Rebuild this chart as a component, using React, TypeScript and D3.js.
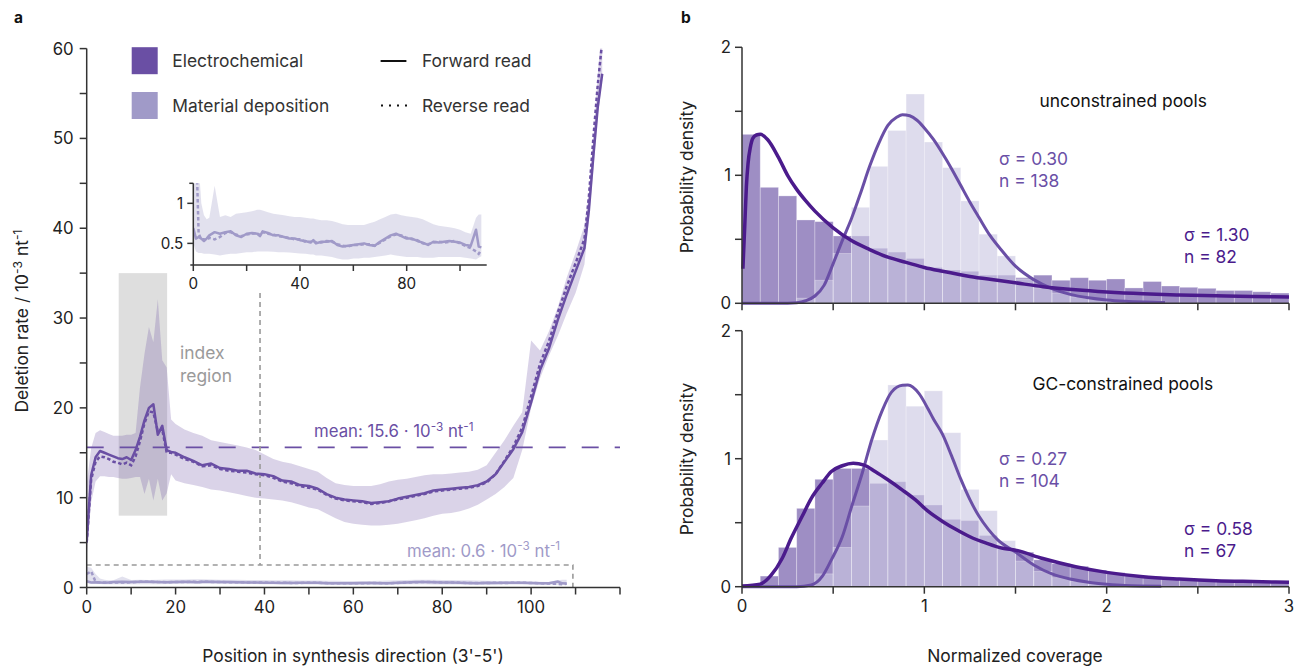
import React from 'react';
import * as d3 from 'd3';

// ---------- Panel a: electrochemical synthesis ----------
const ecPos = [0,1,2,3,4,5,6,7,8,9,10,11,12,13,14,15,16,17,18,19,20,
  22,24,26,28,30,32,34,36,38,40,42,44,46,48,50,52,54,56,58,60,62,64,66,68,70,72,74,76,78,80,
  82,84,86,88,90,92,94,96,98,100,102,104,106,108,110,112,113,114,115,116];
const ecForward = [5.2,12.5,14.5,15.2,15.0,14.8,14.6,14.4,14.3,14.5,14.2,15.3,16.8,18.6,20.0,20.4,17.0,18.0,15.3,15.1,15.0,
  14.5,14.1,13.6,13.8,13.3,13.2,13.0,13.0,12.7,12.6,12.4,11.9,11.8,11.4,11.3,11.0,10.4,10.0,9.8,9.7,9.6,9.4,9.5,9.6,9.9,10.1,10.3,10.5,10.8,10.9,
  11.0,11.1,11.2,11.4,11.8,12.6,14.0,15.4,17.3,20.6,24.2,26.6,29.8,32.6,35.2,37.8,42.0,48.0,53.5,57.2];
const ecReverse = [5.0,12.0,14.0,14.6,14.5,14.3,14.0,13.9,13.7,13.9,13.6,14.6,16.3,18.3,19.6,19.5,17.4,17.6,15.0,15.0,14.8,
  14.3,14.0,13.5,13.6,13.2,13.0,12.9,12.8,12.6,12.5,12.2,11.8,11.6,11.3,11.1,10.9,10.3,9.9,9.7,9.6,9.5,9.3,9.4,9.6,9.8,10.0,10.2,10.4,10.7,10.8,
  10.9,11.0,11.1,11.3,11.7,12.6,14.1,15.7,17.8,21.3,24.9,27.4,30.6,33.5,36.1,38.8,43.5,50.0,56.0,60.8];
const ecUpper = [11.5,15.5,17.2,17.5,17.3,17.1,16.9,16.9,16.9,17.0,17.0,17.2,22.3,26.0,29.0,27.3,32.1,25.3,24.5,18.7,18.2,
  17.6,17.2,16.9,16.4,16.2,16.0,15.8,15.6,15.3,14.8,14.3,14.0,13.8,13.5,13.2,12.9,12.2,11.6,11.4,11.3,11.3,11.3,11.5,11.8,12.0,12.1,12.3,12.5,12.6,12.6,
  12.7,12.8,12.9,13.1,13.6,15.0,16.4,18.0,19.5,27.5,26.4,28.5,31.2,34.5,37.3,40.3,44.0,50.0,57.0,63.0];
const ecLower = [3.5,9.5,11.8,12.4,12.4,12.3,12.3,12.2,12.1,12.1,12.2,12.3,12.3,10.4,12.1,9.7,12.1,9.7,10.5,12.6,11.9,
  11.6,11.4,11.2,10.9,10.8,10.6,10.4,10.2,10.0,9.9,9.8,9.7,9.5,9.2,8.9,8.7,8.2,7.7,7.3,7.1,7.0,6.9,6.9,7.0,7.1,7.3,7.5,7.7,8.0,8.2,
  8.3,8.5,8.8,9.2,9.8,10.4,11.2,12.2,15.3,20.0,23.3,25.8,28.0,30.5,32.8,36.0,41.0,46.5,52.5,56.5];

// ---------- Panel a: material deposition synthesis ----------
const mdPos = [0,1,2,3,4,5,6,8,10,12,14,16,18,20,22,24,25,26,28,30,32,34,36,38,40,42,44,45,
  46,48,50,52,54,56,58,60,62,64,66,68,70,72,74,76,78,80,82,84,86,88,90,92,94,96,98,100,102,104,106,107,108];
const mdForward = [0.69,0.56,0.58,0.56,0.53,0.56,0.60,0.64,0.62,0.64,0.65,0.60,0.58,0.62,0.63,0.62,0.59,0.65,
  0.63,0.60,0.60,0.58,0.56,0.56,0.54,0.53,0.51,0.54,
  0.50,0.52,0.52,0.53,0.48,0.46,0.47,0.48,0.49,0.50,0.48,0.47,0.52,0.56,0.60,0.62,0.59,0.56,0.56,0.53,0.51,0.48,0.52,0.51,0.52,0.53,0.52,0.51,0.48,0.47,0.67,0.46,0.45];
const mdReverse = [1.5,1.8,0.62,0.55,0.55,0.54,0.57,0.55,0.58,0.63,0.64,0.61,0.59,0.61,0.62,0.63,0.60,0.64,
  0.62,0.61,0.59,0.58,0.57,0.55,0.55,0.52,0.52,0.53,
  0.51,0.51,0.53,0.52,0.49,0.47,0.46,0.48,0.48,0.49,0.49,0.47,0.51,0.55,0.59,0.61,0.60,0.57,0.55,0.54,0.50,0.49,0.51,0.52,0.51,0.52,0.53,0.50,0.47,0.44,0.40,0.37,0.42];
const mdUpper = [2.3,2.2,1.5,1.0,0.85,0.8,0.82,1.22,0.83,0.85,0.83,0.87,0.88,0.89,0.9,0.92,0.92,0.91,
  0.89,0.87,0.86,0.85,0.84,0.83,0.83,0.82,0.81,0.81,
  0.8,0.79,0.79,0.78,0.76,0.74,0.73,0.73,0.73,0.73,0.75,0.77,0.8,0.83,0.86,0.87,0.85,0.84,0.83,0.82,0.8,0.77,0.74,0.72,0.71,0.7,0.69,0.67,0.64,0.62,0.82,0.86,0.86];
const mdLower = [0.5,0.4,0.38,0.38,0.37,0.37,0.37,0.36,0.35,0.36,0.37,0.37,0.38,0.39,0.39,0.40,0.40,0.40,
  0.40,0.395,0.39,0.39,0.385,0.38,0.375,0.37,0.36,0.36,
  0.35,0.35,0.34,0.33,0.31,0.30,0.30,0.31,0.31,0.32,0.32,0.33,0.34,0.35,0.36,0.35,0.34,0.33,0.33,0.33,0.32,0.32,0.32,0.33,0.33,0.33,0.33,0.33,0.32,0.31,0.30,0.32,0.34];

const ecMean = 15.6;
const indexRegion = [7.2, 18.1];
const indexRegionY = [8, 35];
const insetMarkerX = 39;
const insetBox = [109.4, 2.5];

const aXTicks = [0,10,20,30,40,50,60,70,80,90,100,110,120];
const aXLabels = [0,20,40,60,80,100];
const aYTicks = [0,5,10,15,20,25,30,35,40,45,50,55,60];
const aYLabels = [0,10,20,30,40,50,60];
const insetXTicks = [0,20,40,60,80,100];
const insetXLabels = [0,40,80];
const insetYTicks = [0.5,1];

// ---------- Panel b: coverage histograms ----------
const binStarts = [0,0.1,0.2,0.3,0.4,0.5,0.6,0.7,0.8,0.9,1.0,1.1,1.2,1.3,1.4,1.5,1.6,1.7,1.8,1.9,2.0,2.1,2.2,2.3,2.4,2.5,2.6,2.7,2.8,2.9];
const ucElectroHist = [1.32,0.906,0.839,0.651,0.638,0.526,0.526,0.43,0.40,0.35,0.28,0.26,0.25,0.22,0.22,0.20,0.22,0.18,0.20,0.18,0.19,0.12,0.17,0.135,0.125,0.117,0.10,0.10,0.09,0.08];
const ucMaterialHist = [0,0,0,0.04,0.18,0.39,0.75,1.07,1.35,1.635,1.26,1.06,0.80,0.54,0.37,0.19,0.12,0.08,0.05,0.03,0.02,0.01,0.01,0,0,0,0,0,0,0];
const gcElectroHist = [0,0.083,0.307,0.612,0.839,0.924,0.924,0.807,0.82,0.716,0.638,0.526,0.516,0.40,0.30,0.27,0.21,0.18,0.16,0.13,0.11,0.09,0.08,0.07,0.06,0.05,0.04,0.035,0.03,0.03];
const gcMaterialHist = [0,0,0,0,0.1,0.307,0.63,1.146,1.576,1.41,1.53,1.203,0.76,0.594,0.36,0.2,0.12,0.07,0.04,0.02,0.01,0.01,0,0,0,0,0,0,0,0];

const ucElectroFitX = [0.005,0.015,0.024,0.033,0.046,0.06,0.079,0.1,0.14,0.2,0.25,0.3,0.35,0.4,0.5,0.6,0.7,0.8,0.9,1.0,1.1,1.25,1.4,1.5,1.65,1.83,2.0,2.2,2.4,2.6,2.8,3.0];
const ucElectroFitY = [0.27,0.6,0.91,1.09,1.22,1.29,1.315,1.32,1.28,1.14,1.0,0.89,0.8,0.72,0.59,0.49,0.42,0.36,0.32,0.28,0.25,0.21,0.18,0.16,0.13,0.105,0.088,0.074,0.065,0.059,0.054,0.05];
const ucMaterialFitX = [0,0.2,0.3,0.35,0.4,0.45,0.5,0.55,0.6,0.65,0.7,0.75,0.8,0.85,0.88,0.92,0.96,1.0,1.05,1.1,1.15,1.2,1.25,1.3,1.36,1.42,1.5,1.6,1.7,1.8,1.9,2.0,2.1,2.2,2.32];
const ucMaterialFitY = [0,0,0.005,0.02,0.057,0.14,0.31,0.49,0.66,0.86,1.07,1.25,1.39,1.455,1.474,1.465,1.43,1.37,1.28,1.17,1.05,0.92,0.79,0.67,0.53,0.42,0.29,0.185,0.115,0.07,0.043,0.026,0.016,0.01,0.006];
const gcElectroFitX = [0,0.1,0.16,0.22,0.27,0.33,0.38,0.44,0.49,0.55,0.61,0.67,0.73,0.8,0.88,0.95,1.02,1.1,1.17,1.25,1.34,1.43,1.5,1.65,1.83,2.0,2.2,2.4,2.6,2.8,3.0];
const gcElectroFitY = [0.005,0.02,0.09,0.22,0.38,0.55,0.69,0.81,0.9,0.945,0.964,0.95,0.9,0.835,0.755,0.68,0.59,0.51,0.45,0.39,0.34,0.3,0.285,0.22,0.156,0.112,0.078,0.06,0.047,0.04,0.034];
const gcMaterialFitX = [0,0.3,0.38,0.44,0.49,0.55,0.6,0.66,0.71,0.77,0.82,0.88,0.91,0.97,1.02,1.05,1.1,1.15,1.2,1.25,1.3,1.35,1.4,1.5,1.6,1.7,1.8,1.9,2.0,2.1,2.3];
const gcMaterialFitY = [0,0,0.013,0.08,0.21,0.39,0.62,0.89,1.14,1.38,1.52,1.573,1.575,1.51,1.39,1.31,1.19,1.02,0.84,0.68,0.55,0.45,0.37,0.27,0.17,0.1,0.06,0.035,0.02,0.01,0.004];

const bXTicks = [0,0.5,1,1.5,2,2.5,3];
const bXLabels = [0,1,2,3];
const bYTicks = [0,0.5,1,1.5,2];
const bYLabels = [0,1,2];

const FONT = "Inter, 'Noto Sans', 'DejaVu Sans', sans-serif";
const EC = '#6a4fa4';
const MD = '#a09ac8';
const AXIS = '#333333';
const DARKFIT = '#4b1b8c';
const LIGHTFIT = '#6a4fa6';
const TXT = 17.4;
const TICK = 16.8;
const ITICK = 15.2;

export default function App() {
  const ax = d3.scaleLinear().domain([0, 120]).range([86.7, 620]);
  const ay = d3.scaleLinear().domain([0, 60]).range([587.5, 48.6]);
  const ix = d3.scaleLinear().domain([0, 110]).range([193.3, 486.7]);
  const iy = d3.scaleLinear().domain([0.23, 1.25]).range([265, 183.3]);
  const bx = d3.scaleLinear().domain([0, 3]).range([742, 1289]);
  const byTop = d3.scaleLinear().domain([0, 2]).range([303.3, 47.3]);
  const byBot = d3.scaleLinear().domain([0, 2]).range([586.7, 330.7]);

  const lineA = (pos: number[], vals: number[], xs: any, ys: any) =>
    d3.line<number>().x((_, i) => xs(pos[i])).y((d) => ys(d))(vals) || '';
  const areaA = (pos: number[], lo: number[], hi: number[], xs: any, ys: any) =>
    d3.area<number>().x((_, i) => xs(pos[i])).y0((_, i) => ys(lo[i])).y1((d) => ys(d))(hi) || '';
  const fitLine = (xv: number[], yv: number[], ys: any) =>
    d3.line<number>().x((_, i) => bx(xv[i])).y((d) => ys(d)).curve(d3.curveMonotoneX)(yv) || '';

  const bins = (vals: number[], ys: any, fill: string, opacity: number, key: string) =>
    vals.map((v, i) =>
      v > 0 ? (
        <rect key={key + i} x={bx(binStarts[i])} width={bx(binStarts[i] + 0.1) - bx(binStarts[i])}
          y={ys(v)} height={ys(0) - ys(v)} fill={fill} fillOpacity={opacity}
          stroke="#ffffff" strokeOpacity={0.35} strokeWidth={0.8} />
      ) : null
    );

  const supText = (x: number, y: number, pre: string, color: string, size: number, anchor = 'start', transform?: string) => (
    <text x={x} y={y} fill={color} fontSize={size} textAnchor={anchor as any} transform={transform} fontFamily={FONT}>
      {pre}10<tspan dy={-6.5} fontSize={size * 0.7}>-3</tspan>
      <tspan dy={6.5}> nt</tspan><tspan dy={-6.5} fontSize={size * 0.7}>-1</tspan>
    </text>
  );

  const bPanel = (ys: any, ecH: number[], mdH: number[], ecFx: number[], ecFy: number[], mdFx: number[], mdFy: number[], showXLabels: boolean, key: string) => (
    <g key={key}>
      {bins(ecH, ys, '#9e8ec4', 1, key + 'e')}
      {bins(mdH, ys, 'rgb(202,200,226)', 0.63, key + 'm')}
      <path d={fitLine(mdFx, mdFy, ys)} fill="none" stroke={LIGHTFIT} strokeWidth={3} strokeLinejoin="round" />
      <path d={fitLine(ecFx, ecFy, ys)} fill="none" stroke={DARKFIT} strokeWidth={3.5} strokeLinejoin="round" />
      <line x1={bx(0)} x2={bx(0)} y1={ys(0)} y2={ys(2)} stroke={AXIS} strokeWidth={1.5} />
      <line x1={bx(0)} x2={bx(3)} y1={ys(0)} y2={ys(0)} stroke={AXIS} strokeWidth={1.5} />
      {bYTicks.map((t) => (
        <line key={key + 'yt' + t} x1={bx(0) - 7} x2={bx(0)} y1={ys(t)} y2={ys(t)} stroke={AXIS} strokeWidth={1.5} />
      ))}
      {bYLabels.map((t) => (
        <text key={key + 'yl' + t} x={bx(0) - 11} y={ys(t) + 6} textAnchor="end" fontSize={TICK} fill="#222" fontFamily={FONT}>{t}</text>
      ))}
      {bXTicks.map((t) => (
        <line key={key + 'xt' + t} x1={bx(t)} x2={bx(t)} y1={ys(0)} y2={ys(0) + 7} stroke={AXIS} strokeWidth={1.5} />
      ))}
      {showXLabels && bXLabels.map((t) => (
        <text key={key + 'xl' + t} x={bx(t)} y={ys(0) + 25} textAnchor="middle" fontSize={TICK} fill="#222" fontFamily={FONT}>{t}</text>
      ))}
    </g>
  );

  return (
    <svg width={1298} height={666} style={{ position: 'absolute', left: 0, top: 0, background: '#fff' }}
      fontFamily={FONT}>
      <defs>
        <clipPath id="clipA"><rect x={ax(0)} y={ay(60)} width={ax(120) - ax(0)} height={ay(0) - ay(60)} /></clipPath>
        <clipPath id="clipInset"><rect x={ix(0)} y={iy(1.25)} width={ix(110) - ix(0)} height={iy(0.23) - iy(1.25)} /></clipPath>
      </defs>
      <rect x={0} y={0} width={1298} height={666} fill="#fff" />

      <text x={14} y={23} fontSize={15.5} fontWeight={700} fill="#111">a</text>
      <text x={681} y={23} fontSize={15.5} fontWeight={700} fill="#111">b</text>

      {/* ===== Panel a ===== */}
      <g clipPath="url(#clipA)">
        <rect x={ax(indexRegion[0])} y={ay(indexRegionY[1])} width={ax(indexRegion[1]) - ax(indexRegion[0])}
          height={ay(indexRegionY[0]) - ay(indexRegionY[1])} fill="#dedede" />
        <path d={areaA(ecPos, ecLower, ecUpper, ax, ay)} fill={EC} fillOpacity={0.25} />
        <path d={areaA(mdPos, mdLower, mdUpper, ax, ay)} fill={MD} fillOpacity={0.3} />
        <line x1={ax(0)} x2={ax(120)} y1={ay(ecMean)} y2={ay(ecMean)} stroke={EC} strokeWidth={1.8} strokeDasharray="17,16" />
        <line x1={ax(insetMarkerX)} x2={ax(insetMarkerX)} y1={293} y2={ay(insetBox[1])} stroke="#999" strokeWidth={1.6} strokeDasharray="5,4" />
        <path d={`M${ax(0)},${ay(insetBox[1])}H${ax(insetBox[0])}V${ay(0)}`} fill="none" stroke="#999" strokeWidth={1.6} strokeDasharray="5,4" />
        <path d={lineA(mdPos, mdForward, ax, ay)} fill="none" stroke={MD} strokeWidth={2.5} />
        <path d={lineA(mdPos, mdReverse, ax, ay)} fill="none" stroke={MD} strokeWidth={2.5} strokeDasharray="3.5,2.5" />
        <path d={lineA(ecPos, ecForward, ax, ay)} fill="none" stroke={EC} strokeWidth={2.5} strokeLinejoin="round" />
        <path d={lineA(ecPos, ecReverse, ax, ay)} fill="none" stroke={EC} strokeWidth={2.5} strokeDasharray="3.5,2.5" />
      </g>

      <text x={180} y={359} fontSize={TXT} fill="#9a9a9a">index</text>
      <text x={180} y={382} fontSize={TXT} fill="#9a9a9a">region</text>
      {supText(314, 437, 'mean: 15.6 · ', EC, 16.8)}
      {supText(407, 556.5, 'mean: 0.6 · ', MD, 16.8)}

      <line x1={ax(0)} x2={ax(0)} y1={ay(0)} y2={ay(60)} stroke={AXIS} strokeWidth={1.5} />
      <line x1={ax(0)} x2={ax(120)} y1={ay(0)} y2={ay(0)} stroke={AXIS} strokeWidth={1.5} />
      {aYTicks.map((t) => (
        <line key={'ayt' + t} x1={ax(0) - 7} x2={ax(0)} y1={ay(t)} y2={ay(t)} stroke={AXIS} strokeWidth={1.5} />
      ))}
      {aYLabels.map((t) => (
        <text key={'ayl' + t} x={ax(0) - 13} y={ay(t) + 6} textAnchor="end" fontSize={TICK} fill="#222">{t}</text>
      ))}
      {aXTicks.map((t) => (
        <line key={'axt' + t} x1={ax(t)} x2={ax(t)} y1={ay(0)} y2={ay(0) + 7} stroke={AXIS} strokeWidth={1.5} />
      ))}
      {aXLabels.map((t) => (
        <text key={'axl' + t} x={ax(t)} y={ay(0) + 25} textAnchor="middle" fontSize={TICK} fill="#222">{t}</text>
      ))}
      <text x={353} y={662} textAnchor="middle" fontSize={TXT} fill="#222">Position in synthesis direction (3'-5')</text>
      {supText(0, 0, 'Deletion rate / ', '#222', TXT, 'middle', 'translate(28,321) rotate(-90)')}

      {/* legend */}
      <rect x={131.7} y={47.2} width={26} height={27} fill={EC} />
      <rect x={131.7} y={92} width={26} height={27} fill={MD} />
      <text x={172.3} y={67} fontSize={TXT} fill="#333">Electrochemical</text>
      <text x={172.3} y={111.5} fontSize={TXT} fill="#333">Material deposition</text>
      <line x1={380.6} x2={406.4} y1={61} y2={61} stroke="#111" strokeWidth={2} />
      <line x1={381} x2={407} y1={105.5} y2={105.5} stroke="#111" strokeWidth={2} strokeDasharray="2,6" />
      <text x={421.9} y={67} fontSize={TXT} fill="#333">Forward read</text>
      <text x={421.9} y={111.5} fontSize={TXT} fill="#333">Reverse read</text>

      {/* inset */}
      <g clipPath="url(#clipInset)">
        <path d={areaA(mdPos, mdLower, mdUpper, ix, iy)} fill={MD} fillOpacity={0.3} />
        <path d={lineA(mdPos, mdForward, ix, iy)} fill="none" stroke={MD} strokeWidth={2.5} strokeLinejoin="round" />
        <path d={lineA(mdPos, mdReverse, ix, iy)} fill="none" stroke={MD} strokeWidth={2.5} strokeDasharray="3.5,2.5" />
      </g>
      <line x1={ix(0) - 3} x2={ix(110)} y1={iy(0.23)} y2={iy(0.23)} stroke={AXIS} strokeWidth={1.5} />
      <line x1={ix(0)} x2={ix(0)} y1={iy(0.23)} y2={iy(1.25)} stroke={AXIS} strokeWidth={1.5} />
      <line x1={ix(0) - 4} x2={ix(0)} y1={iy(1.25)} y2={iy(1.25)} stroke={AXIS} strokeWidth={1.5} />
      {insetYTicks.map((t) => (
        <line key={'iyt' + t} x1={ix(0) - 6} x2={ix(0)} y1={iy(t)} y2={iy(t)} stroke={AXIS} strokeWidth={1.5} />
      ))}
      {insetYTicks.map((t) => (
        <text key={'iyl' + t} x={ix(0) - 10} y={iy(t) + 5.5} textAnchor="end" fontSize={ITICK} fill="#222">{t}</text>
      ))}
      {insetXTicks.map((t) => (
        <line key={'ixt' + t} x1={ix(t)} x2={ix(t)} y1={iy(0.23)} y2={iy(0.23) + 6} stroke={AXIS} strokeWidth={1.5} />
      ))}
      {insetXLabels.map((t) => (
        <text key={'ixl' + t} x={ix(t)} y={iy(0.23) + 24} textAnchor="middle" fontSize={ITICK} fill="#222">{t}</text>
      ))}

      {/* ===== Panel b ===== */}
      {bPanel(byTop, ucElectroHist, ucMaterialHist, ucElectroFitX, ucElectroFitY, ucMaterialFitX, ucMaterialFitY, false, 'top')}
      {bPanel(byBot, gcElectroHist, gcMaterialHist, gcElectroFitX, gcElectroFitY, gcMaterialFitX, gcMaterialFitY, true, 'bot')}

      <text x={1039.5} y={106.5} fontSize={TXT} fill="#111">unconstrained pools</text>
      <text x={999} y={165} fontSize={TXT} fill={LIGHTFIT}>σ = 0.30</text>
      <text x={999} y={187} fontSize={TXT} fill={LIGHTFIT}>n = 138</text>
      <text x={1184} y={241} fontSize={TXT} fill={DARKFIT}>σ = 1.30</text>
      <text x={1184} y={263} fontSize={TXT} fill={DARKFIT}>n = 82</text>

      <text x={1032.5} y={389.5} fontSize={TXT} fill="#111">GC-constrained pools</text>
      <text x={999} y={465} fontSize={TXT} fill={LIGHTFIT}>σ = 0.27</text>
      <text x={999} y={487} fontSize={TXT} fill={LIGHTFIT}>n = 104</text>
      <text x={1184} y={535} fontSize={TXT} fill={DARKFIT}>σ = 0.58</text>
      <text x={1184} y={557} fontSize={TXT} fill={DARKFIT}>n = 67</text>

      <text transform="translate(693,177) rotate(-90)" textAnchor="middle" fontSize={TXT} fill="#222">Probability density</text>
      <text transform="translate(693,459) rotate(-90)" textAnchor="middle" fontSize={TXT} fill="#222">Probability density</text>
      <text x={1015} y={662} textAnchor="middle" fontSize={TXT} fill="#222">Normalized coverage</text>
    </svg>
  );
}
